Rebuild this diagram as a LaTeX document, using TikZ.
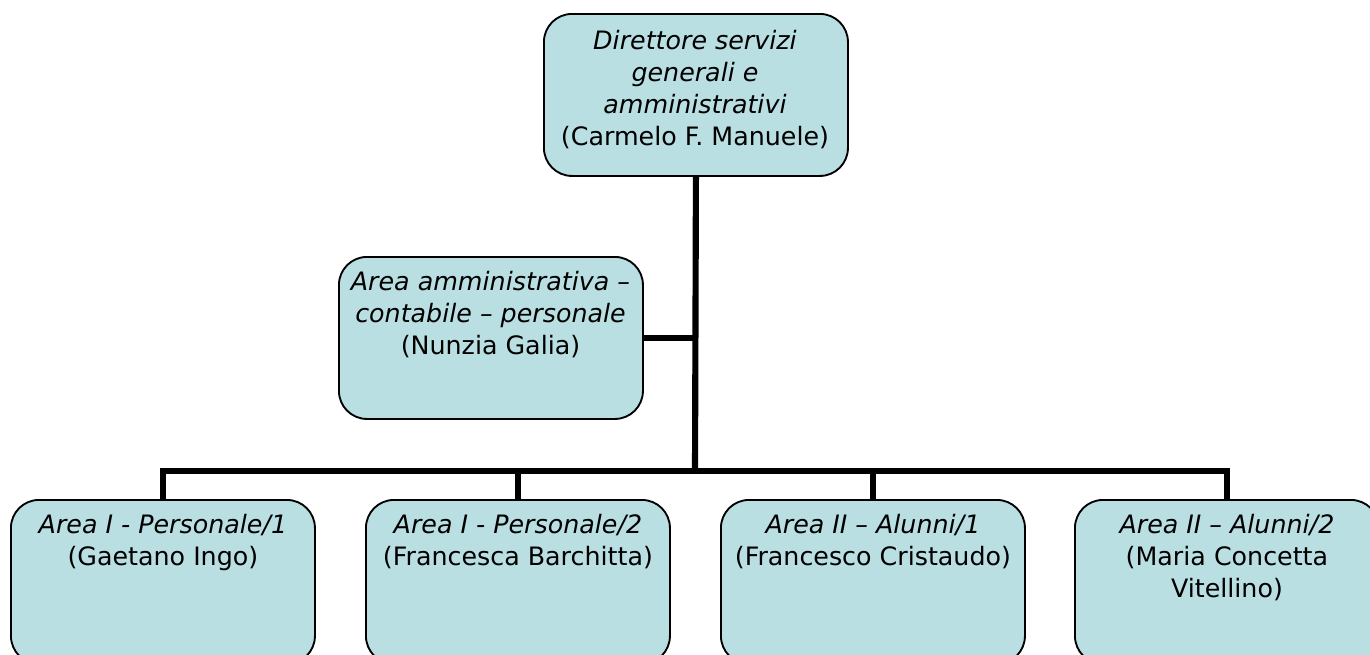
\documentclass[tikz,border=0pt]{standalone}
\usepackage{fontspec}
\setmainfont{DejaVu Sans}
\definecolor{boxfill}{RGB}{186,223,226}
\begin{document}
\begin{tikzpicture}[x=0.75pt,y=-0.75pt,
  box/.style={draw=black, line width=1.4pt, fill=boxfill, rounded corners=21pt, anchor=north west, minimum width=228pt, inner sep=0pt},
  conn/.style={line width=4.6pt},
  lbl/.style={anchor=north, align=center, inner sep=0pt, font=\fontsize{19}{24}\selectfont}]
\useasboundingbox (0,0) rectangle (1370,654);
\clip (0,0) rectangle (1370,654);
% boxes
\node[box, minimum height=121.5pt] (top) at (543,13) {};
\node[box, minimum height=121.5pt] (mid) at (338,256) {};
\node[box, minimum height=123pt] (b1) at (10,499) {};
\node[box, minimum height=123pt] (b2) at (365,499) {};
\node[box, minimum height=123pt] (b3) at (720,499) {};
\node[box, minimum height=123pt] (b4) at (1074,499) {};
% texts
\node[lbl] (ttop) at (695,30) {\textit{Direttore servizi}\\\textit{generali e}\\\textit{amministrativi}\\(Carmelo F. Manuele)};
\node[lbl] (tmid) at (490.5,271) {\textit{Area amministrativa –}\\\textit{contabile – personale}\\(Nunzia Galia)};
\node[lbl] (t1) at (b1.north |- 0,514) {\textit{Area I - Personale/1}\\(Gaetano Ingo)};
\node[lbl] (t2) at (b2.north |- 0,514) {\textit{Area I - Personale/2}\\(Francesca Barchitta)};
\node[lbl] (t3) at (b3.north |- 0,514) {\textit{Area II – Alunni/1}\\(Francesco Cristaudo)};
\node[lbl] (t4) at (b4.north |- 0,514) {\textit{Area II – Alunni/2}\\(Maria Concetta\\Vitellino)};
% connectors
\coordinate (hub) at (695,471);
\draw[conn] (top.south) -- (hub);
\draw[conn] (mid.east) -- (mid.east -| hub);
\draw[conn] (b1.north) |- (hub) -| (b4.north);
\draw[conn] (b2.north) -- (b2.north |- hub);
\draw[conn] (b3.north) -- (b3.north |- hub);
\end{tikzpicture}
\end{document}
